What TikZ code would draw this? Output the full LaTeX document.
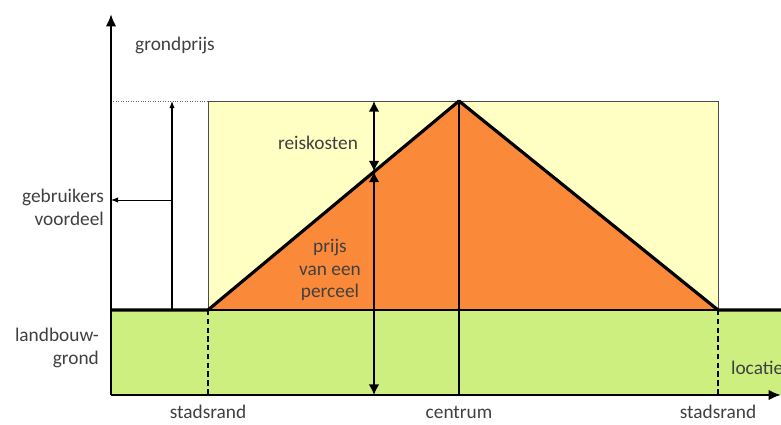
\documentclass[tikz,border=0pt]{standalone}
\usepackage{fontspec}
\setmainfont{Carlito}
\usetikzlibrary{arrows.meta}

\definecolor{geel}{HTML}{FFFFC4}
\definecolor{oranje}{HTML}{FA8A3A}
\definecolor{groen}{HTML}{CDEF80}
\definecolor{tekst}{HTML}{404040}

\tikzset{
    label/.style={text=tekst, font=\fontsize{11}{13}\selectfont, inner sep=1pt},
    axis/.style={line width=1.6pt, -{Latex[length=7pt,width=6pt]}},
    dubbel/.style={line width=0.9pt, {Latex[length=6pt,width=6pt]}-{Latex[length=6pt,width=6pt]}},
    dik/.style={line width=1.8pt, line join=round}
}

\begin{document}
\begin{tikzpicture}
    \useasboundingbox (0,0) rectangle (15.62,8.5);

    % Points
    \coordinate (O) at (2.22,0.60);
    \coordinate (ytop) at (2.22,8.22);
    \coordinate (xend) at (15.62,0.60);
    \coordinate (randL) at (4.16,2.30);
    \coordinate (randR) at (14.36,2.30);
    \coordinate (top) at (9.18,6.48);
    \coordinate (landL) at (2.22,2.30);
    \coordinate (landR) at (15.62,2.30);

    % Areas
    \fill[groen] (O) rectangle (landR);
    \draw[fill=geel, draw=black!70, line width=0.5pt] (randL) rectangle (14.36,6.48);
    \fill[oranje] (randL) -- (top) -- (randR) -- cycle;

    % Lines
    \draw[line width=0.6pt] (randL) -- (randR);
    \draw[line width=0.8pt] (top) -- (9.18,0.60);
    \draw[line width=1pt, dash pattern=on 3pt off 2pt] (randL) -- (4.16,0.60);
    \draw[line width=1pt, dash pattern=on 3pt off 2pt] (randR) -- (14.36,0.60);
    \draw[densely dotted, black!60] (2.22,6.48) -- (4.16,6.48);
    \draw[dik] (landL) -- (randL) -- (top) -- (randR) -- (landR);

    % Axes
    \draw[axis] (O) -- (ytop);
    \draw[axis] (O) -- (xend);

    % Gebruikersvoordeel
    \coordinate (vb) at (3.44,2.30);
    \coordinate (vt) at (3.44,6.48);
    \coordinate (vm) at (3.44,4.50);
    \coordinate (vy) at (2.22,4.50);
    \draw[line width=0.6pt, -{Latex[length=4pt,width=3pt]}] (vb) -- (vt);
    \draw[line width=0.5pt, -{Latex[length=4pt,width=3pt]}] (vm) -- (vy);

    % Reiskosten and prijs
    \coordinate (rt) at (7.48,6.48);
    \coordinate (rm) at (7.48,5.07);
    \coordinate (rb) at (7.48,0.60);
    \draw[dubbel] (rt) -- (rm);
    \draw[dubbel] (rm) -- (rb);

    % Labels
    \node[label] (grondprijs) at (3.50,7.60) {grondprijs};
    \node[label] (reiskosten) at (6.36,5.64) {reiskosten};
    \node[label, anchor=east, align=right] (voordeel) at (2.12,4.36) {gebruikers\\voordeel};
    \node[label, anchor=east, align=right] (landbouw) at (2.02,1.54) {landbouw-\\grond};
    \node[label, align=center] (prijs) at (6.60,3.10) {prijs\\van een\\perceel};
    \node[label, anchor=west] (locatie) at (14.58,1.14) {locatie};
    \node[label] (stadsrandL) at (4.16,0.26) {stadsrand};
    \node[label] (centrum) at (9.18,0.26) {centrum};
    \node[label] (stadsrandR) at (14.36,0.26) {stadsrand};
\end{tikzpicture}
\end{document}
